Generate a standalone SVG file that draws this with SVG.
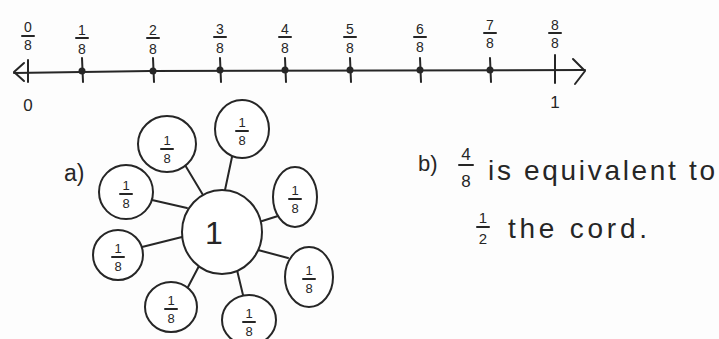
<svg xmlns="http://www.w3.org/2000/svg" width="719" height="339" viewBox="0 0 719 339">
<style>
  .ink { stroke: #262626; stroke-width: 2; fill: none; stroke-linecap: round; stroke-linejoin: round; }
  .dot { fill: #262626; }
  .t { font-family: "Liberation Sans", Arial, sans-serif; fill: #262626; }
  .fn { font-size: 14px; text-anchor: middle; }
  .fo { font-size: 13px; text-anchor: middle; }
  .node { fill: #ffffff; stroke: #262626; stroke-width: 2; }
</style>
<rect width="719" height="339" fill="#fdfdfd"/>

<g id="number-line">
  <path class="ink" d="M14,73 L150,71 L585,70"/>
  <polyline class="ink" points="24,63 14,72 24,81"/>
  <polyline class="ink" points="573,59 585,71 575,84"/>
  <g class="ink">
    <line x1="28" y1="60" x2="28" y2="82"/>
    <line x1="82" y1="58" x2="83" y2="82"/>
    <line x1="153" y1="58" x2="154" y2="82"/>
    <line x1="220" y1="58" x2="221" y2="82"/>
    <line x1="285" y1="58" x2="286" y2="82"/>
    <line x1="350" y1="58" x2="351" y2="82"/>
    <line x1="420" y1="58" x2="421" y2="82"/>
    <line x1="490" y1="58" x2="491" y2="82"/>
    <line x1="555" y1="55" x2="555" y2="83"/>
  </g>
  <g class="dot">
    <circle cx="82" cy="71" r="3.5"/>
    <circle cx="153" cy="71" r="3.5"/>
    <circle cx="220" cy="70" r="3.5"/>
    <circle cx="285" cy="70" r="3.5"/>
    <circle cx="350" cy="70" r="3.5"/>
    <circle cx="420" cy="70" r="3.5"/>
    <circle cx="490" cy="70" r="3.5"/>
  </g>
  <g class="ink">
    <line x1="22" y1="36" x2="34" y2="36"/>
    <line x1="76" y1="38" x2="88" y2="38"/>
    <line x1="147" y1="38" x2="159" y2="38"/>
    <line x1="214" y1="37" x2="226" y2="37"/>
    <line x1="279" y1="37" x2="291" y2="37"/>
    <line x1="344" y1="37" x2="356" y2="37"/>
    <line x1="414" y1="37" x2="426" y2="37"/>
    <line x1="484" y1="33" x2="496" y2="33"/>
    <line x1="549" y1="33" x2="561" y2="33"/>
  </g>
  <g class="t fn">
    <text x="28" y="32">0</text><text x="28" y="50">8</text>
    <text x="82" y="35">1</text><text x="82" y="54">8</text>
    <text x="153" y="35">2</text><text x="153" y="54">8</text>
    <text x="220" y="34">3</text><text x="220" y="53">8</text>
    <text x="285" y="34">4</text><text x="285" y="53">8</text>
    <text x="350" y="34">5</text><text x="350" y="53">8</text>
    <text x="420" y="34">6</text><text x="420" y="52">8</text>
    <text x="490" y="30">7</text><text x="490" y="48">8</text>
    <text x="555" y="30">8</text><text x="555" y="48">8</text>
  </g>
  <text class="t" x="28" y="111" font-size="17" text-anchor="middle">0</text>
  <text class="t" x="555" y="108" font-size="17" text-anchor="middle">1</text>
</g>

<text class="t" x="64" y="181" font-size="23">a)</text>

<g id="connectors" class="ink">
  <line x1="185" y1="165" x2="203" y2="195"/>
  <line x1="232" y1="157" x2="225" y2="190"/>
  <line x1="152" y1="200" x2="187" y2="208"/>
  <line x1="278" y1="216" x2="259" y2="222"/>
  <line x1="142" y1="247" x2="182" y2="237"/>
  <line x1="258" y1="250" x2="288" y2="258"/>
  <line x1="188" y1="287" x2="199" y2="266"/>
  <line x1="237" y1="270" x2="243" y2="295"/>
</g>

<g id="whole">
  <ellipse class="node" cx="222" cy="232" rx="40" ry="42"/>
  <text class="t" x="214" y="244" font-size="32" text-anchor="middle">1</text>
</g>
<g id="part1">
  <ellipse class="node" cx="167" cy="144" rx="29" ry="28"/>
  <text class="t fo" x="167" y="145">1</text><line class="ink" x1="161" y1="149" x2="173" y2="149"/><text class="t fo" x="167" y="163">8</text>
</g>
<g id="part2">
  <ellipse class="node" cx="242" cy="129" rx="27" ry="29"/>
  <text class="t fo" x="242" y="127">1</text><line class="ink" x1="236" y1="131" x2="248" y2="131"/><text class="t fo" x="242" y="145">8</text>
</g>
<g id="part3">
  <ellipse class="node" cx="126" cy="192" rx="27" ry="27"/>
  <text class="t fo" x="126" y="190">1</text><line class="ink" x1="120" y1="194" x2="132" y2="194"/><text class="t fo" x="126" y="208">8</text>
</g>
<g id="part4">
  <ellipse class="node" cx="295" cy="197" rx="22" ry="30"/>
  <text class="t fo" x="295" y="195">1</text><line class="ink" x1="289" y1="199" x2="301" y2="199"/><text class="t fo" x="295" y="213">8</text>
</g>
<g id="part5">
  <ellipse class="node" cx="118" cy="255" rx="25" ry="25"/>
  <text class="t fo" x="118" y="253">1</text><line class="ink" x1="112" y1="257" x2="124" y2="257"/><text class="t fo" x="118" y="271">8</text>
</g>
<g id="part6">
  <ellipse class="node" cx="309" cy="277" rx="24" ry="30"/>
  <text class="t fo" x="309" y="275">1</text><line class="ink" x1="303" y1="279" x2="315" y2="279"/><text class="t fo" x="309" y="293">8</text>
</g>
<g id="part7">
  <ellipse class="node" cx="171" cy="307" rx="26" ry="25"/>
  <text class="t fo" x="171" y="305">1</text><line class="ink" x1="165" y1="309" x2="177" y2="309"/><text class="t fo" x="171" y="323">8</text>
</g>
<g id="part8">
  <ellipse class="node" cx="249" cy="320" rx="27" ry="25"/>
  <text class="t fo" x="249" y="318">1</text><line class="ink" x1="243" y1="322" x2="255" y2="322"/><text class="t fo" x="249" y="336">8</text>
</g>

<g id="answer-b">
  <text class="t" x="418" y="171" font-size="22">b)</text>
  <text class="t" x="466" y="160" font-size="17" text-anchor="middle">4</text>
  <line class="ink" x1="459" y1="165" x2="473" y2="165"/>
  <text class="t" x="466" y="187" font-size="17" text-anchor="middle">8</text>
  <text class="t" x="488" y="180" font-size="28" textLength="227" lengthAdjust="spacing">is equivalent to</text>
  <text class="t" x="483" y="223" font-size="15" text-anchor="middle">1</text>
  <line class="ink" x1="477" y1="227" x2="489" y2="227"/>
  <text class="t" x="483" y="244" font-size="15" text-anchor="middle">2</text>
  <text class="t" x="508" y="238" font-size="28" textLength="139" lengthAdjust="spacing">the cord.</text>
</g>
</svg>
